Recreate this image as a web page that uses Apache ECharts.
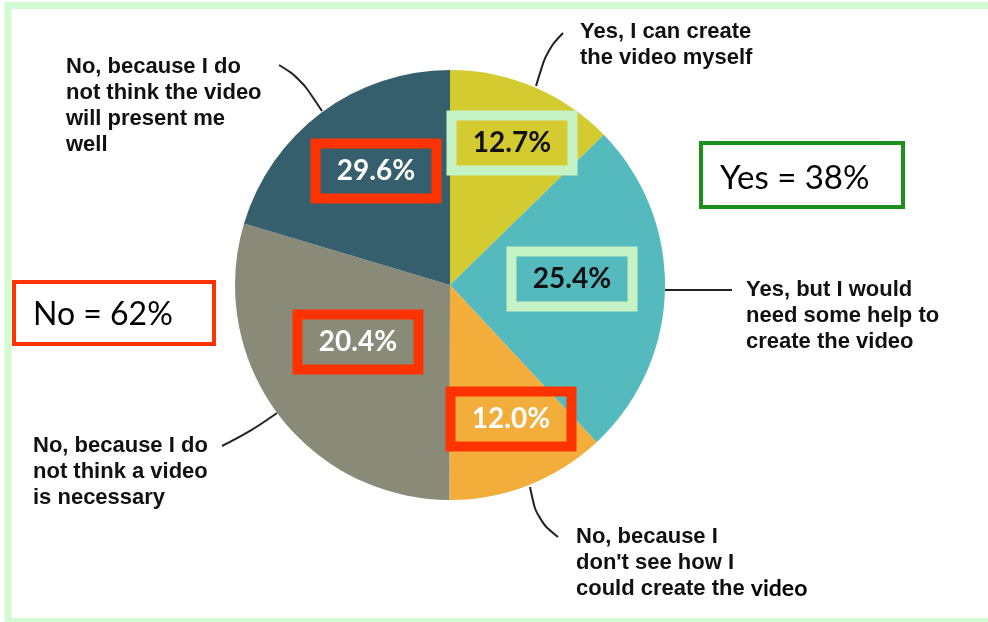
<!DOCTYPE html>
<html>
<head>
<meta charset="utf-8">
<script src="https://cdn.jsdelivr.net/npm/echarts@6/dist/echarts.min.js"></script>
<style>html,body{margin:0;padding:0;background:#fff;}#c{width:988px;height:622px;}</style>
</head>
<body>
<div id="c"></div>
<script>
// ---- data ----
const categories = [
  'Yes, I can create\nthe video myself',
  'Yes, but I would\nneed some help to\ncreate the video',
  "No, because I\ndon't see how I\ncould create the video",
  'No, because I do\nnot think a video\nis necessary',
  'No, because I do\nnot think the video\nwill present me\nwell'
];
const sliceValues = [12.7, 25.4, 12.0, 29.6, 20.4];
const boxLabels = ['12.7%', '25.4%', '12.0%', '20.4%', '29.6%'];
const summaryLabels = ['Yes = 38%', 'No = 62%'];

// ---- styles ----
const colors = ['#d4cb30', '#55babd', '#f2ad3b', '#8a8a78', '#355f6c'];
const boxBorder = ['#c6f3c6', '#c6f3c6', '#ff3300', '#ff3300', '#ff3300'];
const boxText = ['#111', '#111', '#fff', '#fff', '#fff'];
const boxPos = [[512, 143], [572, 279], [511, 419], [358, 342], [376, 171]];
const labelPos = [[580, 19], [746, 277], [576, 524], [33, 433], [66, 54]];
const linePts = [
  [[536, 86], [547, 50], [563, 33]],
  [[665, 290], [700, 290], [732, 290]],
  [[530, 487], [537, 520], [558, 537]],
  [[277, 413], [250, 432], [222, 446]],
  [[322, 111], [300, 78], [279, 65]]
];

const chart = echarts.init(document.getElementById('c'));
const CENTER = [450, 285], R = 215;

function catFormatter(p) {
  const lines = categories[p.dataIndex].split('\n');
  if (p.dataIndex === 2) {
    const last = lines.pop();
    const parts = last.split(' ');
    const tail = parts.pop();
    return lines.map(l => '{a|' + l + '}').join('\n') + '\n{a|' + parts.join(' ') + ' }{v|' + tail + '}';
  }
  return lines.map(l => '{a|' + l + '}').join('\n');
}

chart.setOption({
  animation: false,
  backgroundColor: '#fff',
  graphic: [
    { type: 'rect', shape: { x: 8, y: 5.5, width: 1000, height: 616 },
      style: { fill: 'none', stroke: '#d3fbd3', lineWidth: 7 }, z: 0 },
    { type: 'rect', shape: { x: 701, y: 143, width: 202, height: 64 },
      style: { fill: '#fff', stroke: '#1c8f1c', lineWidth: 4 }, z: 10 },
    { type: 'text', x: 720, y: 178, style: { text: summaryLabels[0], fill: '#000',
      font: '33px Lato, "Open Sans", sans-serif', verticalAlign: 'middle', align: 'left' }, z: 11 },
    { type: 'rect', shape: { x: 14, y: 282, width: 200, height: 62 },
      style: { fill: '#fff', stroke: '#ff3300', lineWidth: 4 }, z: 10 },
    { type: 'text', x: 33, y: 315, style: { text: summaryLabels[1], fill: '#000',
      font: '32px Lato, "Open Sans", sans-serif', verticalAlign: 'middle', align: 'left' }, z: 11 }
  ],
  series: [
    {
      type: 'pie',
      center: CENTER,
      radius: R,
      startAngle: 90,
      clockwise: true,
      silent: true,
      data: sliceValues.map((v, i) => ({ value: v, name: categories[i], itemStyle: { color: colors[i] } })),
      label: {
        show: true,
        position: 'outside',
        formatter: catFormatter,
        rich: {
          a: { fontFamily: '"Liberation Sans", Arial, sans-serif', fontWeight: 'bold', fontSize: 22, lineHeight: 26, color: '#111' },
          v: { fontFamily: 'Lato, "Open Sans", sans-serif', fontWeight: 'bold', fontSize: 23, lineHeight: 26, color: '#000' }
        }
      },
      labelLine: { show: true, smooth: 0.4, lineStyle: { color: '#222', width: 2 } },
      labelLayout: function (p) {
        const i = p.dataIndex;
        return { x: labelPos[i][0], y: labelPos[i][1], align: 'left', verticalAlign: 'top',
                 labelLinePoints: linePts[i] };
      }
    },
    {
      type: 'pie',
      center: CENTER,
      radius: R,
      startAngle: 90,
      clockwise: true,
      silent: true,
      z: 5,
      data: sliceValues.map((v, i) => ({
        value: v, name: boxLabels[i],
        itemStyle: { color: 'rgba(0,0,0,0)' },
        label: { color: boxText[i], borderColor: boxBorder[i] }
      })),
      label: {
        show: true,
        position: 'inside',
        formatter: p => boxLabels[p.dataIndex],
        fontFamily: 'Lato, "Open Sans", sans-serif',
        fontWeight: 'bold',
        fontSize: 28,
        borderWidth: 5,
        width: 121,
        height: 55,
        lineHeight: 55,
        align: 'center',
        padding: 0,
        backgroundColor: 'transparent'
      },
      labelLine: { show: false },
      labelLayout: function (p) {
        const i = p.dataIndex;
        return { x: boxPos[i][0], y: boxPos[i][1], align: 'center', verticalAlign: 'middle' };
      }
    }
  ]
});
</script>
</body>
</html>
